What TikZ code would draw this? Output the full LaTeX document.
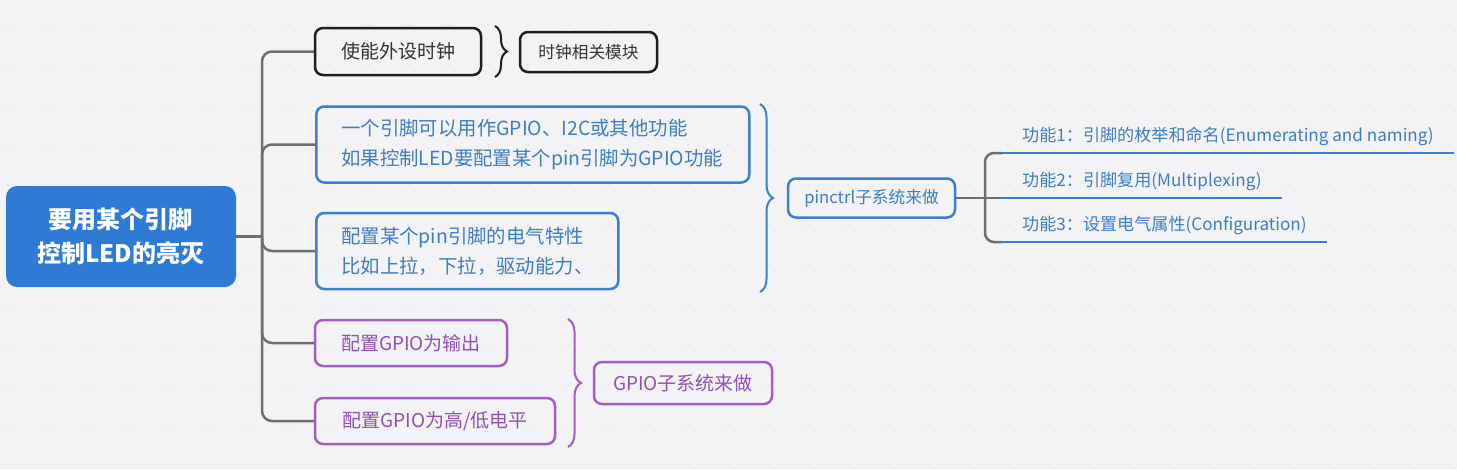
\documentclass[tikz,border=0pt]{standalone}
\usepackage{fontspec}
\setmainfont{Noto Sans CJK SC}
\usetikzlibrary{decorations.pathreplacing}
\definecolor{bgc}{HTML}{F3F3F5}
\definecolor{dotc}{HTML}{DCDCE0}
\definecolor{rootc}{HTML}{2E7BD6}
\definecolor{bluec}{HTML}{3B80D0}
\definecolor{bluet}{HTML}{3E7CC6}
\definecolor{purc}{HTML}{A25DC6}
\definecolor{purt}{HTML}{9050B4}
\definecolor{grayc}{HTML}{6E6E6E}
\definecolor{blkc}{HTML}{1E1E1E}
\definecolor{blkt}{HTML}{333333}
\tikzset{
  box/.style={draw, line width=2.5pt, rounded corners=8pt, inner ysep=0pt},
  rootbox/.style={fill=rootc, rounded corners=11pt, text=white, align=center,
    font=\fontsize{24}{34}\selectfont\bfseries, minimum width=230pt, minimum height=101pt},
  blkbox/.style={box, draw=blkc, text=blkt, font=\fontsize{19}{30}\selectfont},
  blkbox2/.style={box, draw=blkc, text=blkt, font=\fontsize{16.7}{20}\selectfont},
  bluebox/.style={box, draw=bluec, text=bluet, align=left, inner xsep=25pt,
    font=\fontsize{19.4}{30}\selectfont, minimum height=76pt},
  bluebox2/.style={box, draw=bluec, text=bluet, font=\fontsize{16.7}{20}\selectfont},
  purbox/.style={box, draw=purc, text=purt, font=\fontsize{19}{24}\selectfont},
  fn/.style={text=bluet, font=\fontsize{17.1}{20}\selectfont, inner xsep=20pt,
    inner ysep=11pt, text depth=0pt, anchor=south west},
  conn/.style={draw=grayc, line width=2.5pt},
  uline/.style={draw=bluec, line width=2.5pt},
  bracestyle/.style={line width=2pt, decorate, decoration={brace, amplitude=12pt}},
}
\begin{document}
\begin{tikzpicture}[x=1pt, y=-1pt]
\fill[bgc] (0,0) rectangle (1457,469);
\useasboundingbox (0,0) rectangle (1457,469);
\foreach \i in {0,...,36} {\foreach \j in {0,...,11} {
  \fill[dotc] (8+40*\i, 25+40*\j) circle (1pt);}}

% root
\node[rootbox] (root) at (121,236.5) {要用某个引脚\\控制LED的亮灭};
\coordinate (tr) at (262,236.5);

% children
\node[blkbox, minimum width=166pt, minimum height=47pt] (c1) at (398,51.5) {使能外设时钟};
\node[blkbox2, minimum width=137pt, minimum height=40pt] (c1b) at (588.5,52) {时钟相关模块};
\node[bluebox, text width=383pt, anchor=west] (b1) at (315,144.5)
  {一个引脚可以用作GPIO、I2C或其他功能\\如果控制LED要配置某个pin引脚为GPIO功能};
\node[bluebox, text width=252pt, anchor=west] (b2) at (315,251)
  {配置某个pin引脚的电气特性\\比如上拉，下拉，驱动能力、};
\node[purbox, minimum width=192pt, minimum height=46pt] (p1) at (411,343) {配置GPIO为输出};
\node[purbox, minimum width=240pt, minimum height=46pt] (p2) at (435,421) {配置GPIO为高/低电平};

\node[bluebox2, minimum width=167pt, minimum height=39pt] (pin) at (871.5,198) {pinctrl子系统来做};
\node[purbox, minimum width=178pt, minimum height=42pt] (gp) at (683,383) {GPIO子系统来做};

% trunk connectors
\draw[conn] (root.east) -- (tr);
\foreach \n in {c1,b1,b2,p1,p2} {\draw[conn, rounded corners=10pt] (tr) |- (\n.west);}

% braces
\draw[bracestyle, draw=blkc] (495,26) -- (495,77);
\draw[bracestyle, draw=bluec, decoration={brace, amplitude=13pt}] (760,104) -- (760,292);
\draw[bracestyle, draw=purc, decoration={brace, amplitude=13pt}] (568,319) -- (568,447);

% pinctrl functions
\node[fn] (f1) at (1002,153) {功能1：引脚的枚举和命名(Enumerating and naming)};
\node[fn] (f2) at (1002,198) {功能2：引脚复用(Multiplexing)};
\node[fn] (f3) at (1002,242) {功能3：设置电气属性(Configuration)};
\coordinate (pj) at (985,198);
\draw[conn] (pin.east) -- (f2.south west);
\draw[conn, rounded corners=9pt] (pj) |- (f1.south west);
\draw[conn, rounded corners=9pt] (pj) |- (f3.south west);
\draw[uline] (f1.south west) -- (f1.south east);
\draw[uline] (f2.south west) -- (f2.south east);
\draw[uline] (f3.south west) -- (f3.south east);
\end{tikzpicture}
\end{document}
